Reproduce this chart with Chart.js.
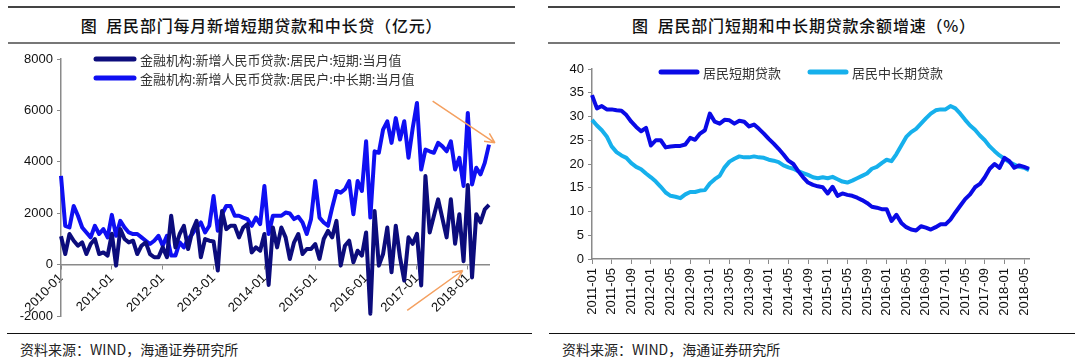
<!DOCTYPE html>
<html>
<head>
<meta charset="utf-8">
<script src="https://cdn.jsdelivr.net/npm/chart.js@4.4.1/dist/chart.umd.min.js"></script>
<style>
  body { margin: 0; width: 1080px; height: 363px; background: #fff; position: relative; overflow: hidden;
         font-family: "Noto Sans CJK SC", sans-serif; color: #111; }
  .title { position: absolute; top: 6px; height: 34px; border-top: 2px solid #444; border-bottom: 2px solid #777;
           text-align: center; font-size: 16px; font-weight: 500; line-height: 34px; letter-spacing: 0.8px; }
  .foot { position: absolute; top: 333px; height: 0; border-top: 1.5px solid #111; }
  .src { position: absolute; top: 339px; font-size: 14px; line-height: 20px; color: #222; }
  canvas { position: absolute; top: 45px; }
</style>
</head>
<body>
<div class="title" style="left:8px;width:507px;">图&nbsp;&nbsp;居民部门每月新增短期贷款和中长贷（亿元）</div>
<div class="title" style="left:548px;width:512px;">图&nbsp;&nbsp;居民部门短期和中长期贷款余额增速（%）</div>
<canvas id="flow" width="540" height="290" style="left:0"></canvas>
<canvas id="growth" width="540" height="290" style="left:540px"></canvas>
<div class="foot" style="left:7px;width:525px;"></div>
<div class="foot" style="left:549px;width:526px;"></div>
<div class="src" style="left:20px;">资料来源：WIND，海通证券研究所</div>
<div class="src" style="left:562px;">资料来源：WIND，海通证券研究所</div>

<script>
Chart.defaults.font.family = "'Liberation Sans', Arial, sans-serif";
Chart.defaults.color = "#111";

// month labels
function monthRange(y0, m0, y1, m1) {
  const out = [];
  for (let y = y0, m = m0; y < y1 || (y === y1 && m <= m1); m++) {
    if (m > 12) { m = 1; y++; if (y > y1) break; }
    out.push(y + "-" + String(m).padStart(2, "0"));
  }
  return out;
}
const flowMonths = monthRange(2010, 1, 2018, 6);
const growthMonths = monthRange(2011, 1, 2018, 6);

// new household loans per month (100m yuan)
const shortNew = [
  1100, 410, 1190, 930, 735, 865, 410, 800, 995, 410, 475, 350,
  1200, -40, 1380, 995, 865, 930, 410, 735, 865, 410, 285, 285,
  670, 285, 1900, 670, 1190, 1510, 605, 1315, 1700, 285, 995, 930,
  900, -230, 2090, 1380, 1510, 1510, 1060, 1445, 1575, 475, 670, 540,
  1190, -790, 1445, 670, 1445, 1060, 220, 865, 1190, 410, 605, 605,
  800, 220, 995, 1315, 1060, 1700, -40, 735, 930, 90, 540, 350,
  1250, -1910, 2090, -40, 410, 1445, -300, 1510, 280, -620, 1060, 810,
  1200, -810, 3445, 1250, 1900, 2540, 1800, 1060, 2540, 810, 1960, 130,
  3100, -500, 1960, 1640, 2150, 2320
];
const midLongNew = [
  3450, 1510, 1445, 2280, 1900, 1445, 1250, 1060, 1510, 1190, 1380, 1060,
  1935, 1120, 1700, 1445, 1250, 1190, 1190, 1060, 930, 800, 930, 1120,
  735, 1120, 350, 350, 865, 670, 995, 1190, 1445, 1640, 1250, 1510,
  2670, 1315, 1960, 2280, 2280, 1900, 1900, 1830, 1770, 1510, 1830, 1575,
  3060, 1190, 1900, 1900, 1900, 2025, 1990, 1770, 1860, 1640, 1190, 1770,
  3250, 1830, 1640, 1510, 2220, 2865, 2800, 2930, 3250, 1960, 3250, 2865,
  4800, 1830, 4410, 4350, 5250, 5575, 4735, 5700, 4865, 5575, 4155, 5315,
  6290, 3700, 4475, 4410, 4350, 4735, 4600, 4410, 4800, 3700, 4155, 3060,
  5900, 3120, 3770, 3510, 3960, 4670
];

// loan balance growth (%)
const shortGrowth = [
  34.5, 31.7, 32.2, 31.5, 31.5, 31.3, 31.2, 30.3, 28.9, 27.8, 26.9, 27.6,
  23.9, 25.0, 25.0, 23.5, 23.7, 23.8, 23.8, 24.1, 25.5, 25.1, 26.4, 27.1,
  30.6, 28.9, 28.5, 29.3, 29.2, 28.5, 29.1, 28.9, 27.9, 28.3, 27.4, 26.4,
  25.3, 24.3, 23.2, 22.0, 20.7, 20.0, 18.5, 17.2, 16.1, 15.6, 15.3, 15.1,
  13.8, 15.2, 13.3, 13.8, 13.5, 13.3, 12.9, 12.4, 11.8, 11.0, 10.8, 10.5,
  10.5, 8.0, 9.3, 7.6, 6.7, 6.2, 6.0, 6.9, 6.6, 6.2, 6.7, 7.3,
  7.3, 8.3, 9.8, 11.2, 12.6, 13.6, 15.1, 15.8, 17.2, 19.0, 20.0, 19.2,
  21.3, 20.6, 19.2, 19.7, 19.4, 19.0
];
const midLongGrowth = [
  29.3, 28.1, 27.1, 25.8, 23.7, 22.5, 21.8, 21.3, 20.2, 19.4, 18.9, 18.0,
  17.2, 16.3, 15.2, 14.0, 13.3, 13.1, 12.8, 13.6, 14.1, 14.1, 14.4, 14.5,
  15.9, 16.8, 17.5, 19.3, 20.5, 21.1, 21.6, 21.4, 21.4, 21.6, 21.4, 21.3,
  20.9, 20.7, 20.4, 19.7, 19.3, 19.0, 18.5, 18.1, 17.7, 17.2, 17.0, 17.2,
  17.0, 17.3, 16.8, 16.3, 16.1, 16.5, 17.0, 17.5, 18.0, 19.0, 19.4, 20.2,
  20.9, 20.6, 22.1, 23.9, 25.7, 26.7, 27.4, 28.5, 29.6, 30.6, 31.3, 31.5,
  31.5, 32.2, 31.7, 30.6, 29.3, 28.1, 27.2, 26.0, 25.0, 23.7, 22.7, 21.8,
  21.1, 20.4, 19.9, 19.4, 19.2, 18.7
];

const flowTicks = [-2000, 8000, 2000];   // min, max, step
const growthTicks = [0, 40, 5];

// orange arrows, in data units (month index, value)
const flowArrows = [
  { from: [87.7, 6360], to: [102.4, 4740] },
  { from: [81.7, -1780], to: [94.8, -230] }
];

/* legend drawn inside the plot area */
const lineLegend = {
  id: "lineLegend",
  afterDraw(chart, args, opts) {
    const ctx = chart.ctx;
    const area = chart.chartArea;
    ctx.save();
    ctx.font = opts.font;
    ctx.textBaseline = "middle";
    chart.data.datasets.forEach((ds, i) => {
      const p = opts.items[i];
      const x = area.left + p[0], y = area.top + p[1];
      ctx.strokeStyle = ds.borderColor;
      ctx.lineWidth = 5;
      ctx.lineCap = "round";
      ctx.beginPath();
      ctx.moveTo(x + 2, y);
      ctx.lineTo(x + opts.sample - 2, y);
      ctx.stroke();
      ctx.fillStyle = "#333";
      ctx.fillText(ds.label, x + opts.sample + 4, y + 1);
    });
    ctx.restore();
  }
};

const arrows = {
  id: "arrows",
  afterDatasetsDraw(chart, args, opts) {
    if (!opts.items) return;
    const { ctx, scales } = chart;
    ctx.save();
    ctx.strokeStyle = opts.color;
    ctx.lineWidth = 1.5;
    opts.items.forEach(a => {
      const x1 = scales.x.getPixelForValue(a.from[0]), y1 = scales.y.getPixelForValue(a.from[1]);
      const x2 = scales.x.getPixelForValue(a.to[0]), y2 = scales.y.getPixelForValue(a.to[1]);
      const ang = Math.atan2(y2 - y1, x2 - x1);
      ctx.beginPath();
      ctx.moveTo(x1, y1);
      ctx.lineTo(x2, y2);
      [0.45, -0.45].forEach(d => {
        ctx.moveTo(x2, y2);
        ctx.lineTo(x2 - 11 * Math.cos(ang + d), y2 - 11 * Math.sin(ang + d));
      });
      ctx.stroke();
    });
    ctx.restore();
  }
};

const axisGray = "#8a8a8a";
const tickFont = { size: 13 };

let flowChart = new Chart(document.getElementById("flow"), {
  type: "line",
  data: {
    labels: flowMonths,
    datasets: [
      { label: "金融机构:新增人民币贷款:居民户:短期:当月值", data: shortNew,
        borderColor: "#0c0c7c", borderWidth: 4 },
      { label: "金融机构:新增人民币贷款:居民户:中长期:当月值", data: midLongNew,
        borderColor: "#0f0ff2", borderWidth: 4 }
    ]
  },
  options: {
    responsive: false,
    animation: false,
    devicePixelRatio: 1,
    layout: { padding: { left: 0, top: 14, right: 51, bottom: 19 } },
    elements: { point: { radius: 0 }, line: { tension: 0, borderJoinStyle: "round" } },
    scales: {
      x: {
        position: { y: 0 },
        ticks: {
          autoSkip: false, minRotation: 45, maxRotation: 45, padding: 2, font: tickFont,
          callback: (v, i) => (i % 12 === 0 ? flowMonths[i] : "")
        },
        grid: {
          drawOnChartArea: false, tickLength: 4,
          color: c => (c.index % 12 === 0 ? axisGray : "rgba(0,0,0,0)")
        },
        border: { color: axisGray, width: 1.5 }
      },
      y: {
        min: flowTicks[0], max: flowTicks[1],
        ticks: { stepSize: flowTicks[2], padding: 4, font: tickFont, callback: v => String(v) },
        grid: { drawOnChartArea: false, tickLength: 4, color: axisGray },
        border: { color: axisGray, width: 1.5 },
        afterFit: s => { s.width = 61; }
      }
    },
    plugins: {
      legend: { display: false },
      tooltip: { enabled: false },
      lineLegend: { font: "13px 'Noto Sans CJK SC'", sample: 42, items: [[33, 0], [33, 19]] },
      arrows: { color: "#f4a060", items: flowArrows }
    }
  },
  plugins: [lineLegend, arrows]
});

let growthChart = new Chart(document.getElementById("growth"), {
  type: "line",
  data: {
    labels: growthMonths,
    datasets: [
      { label: "居民短期贷款", data: shortGrowth, borderColor: "#0a0ae6", borderWidth: 4 },
      { label: "居民中长期贷款", data: midLongGrowth, borderColor: "#16b0ec", borderWidth: 4 }
    ]
  },
  options: {
    responsive: false,
    animation: false,
    devicePixelRatio: 1,
    layout: { padding: { left: 0, top: 24, right: 51, bottom: 0 } },
    elements: { point: { radius: 0 }, line: { tension: 0, borderJoinStyle: "round" } },
    scales: {
      x: {
        ticks: {
          autoSkip: false, minRotation: 90, maxRotation: 90, padding: 4, font: tickFont,
          callback: (v, i) => (i % 4 === 0 ? growthMonths[i] : "")
        },
        grid: {
          drawOnChartArea: false, tickLength: 5,
          color: c => (c.index % 4 === 0 ? axisGray : "rgba(0,0,0,0)")
        },
        border: { color: axisGray, width: 1.5 },
        afterFit: s => { s.height = 76; }
      },
      y: {
        min: growthTicks[0], max: growthTicks[1],
        ticks: { stepSize: growthTicks[2], padding: 4, font: tickFont },
        grid: { drawOnChartArea: false, tickLength: 4, color: axisGray },
        border: { color: axisGray, width: 1.5 },
        afterFit: s => { s.width = 52; }
      }
    },
    plugins: {
      legend: { display: false },
      tooltip: { enabled: false },
      lineLegend: { font: "13px 'Noto Sans CJK SC'", sample: 40, items: [[67, 3], [216, 3]] }
    }
  },
  plugins: [lineLegend]
});
</script>
</body>
</html>
